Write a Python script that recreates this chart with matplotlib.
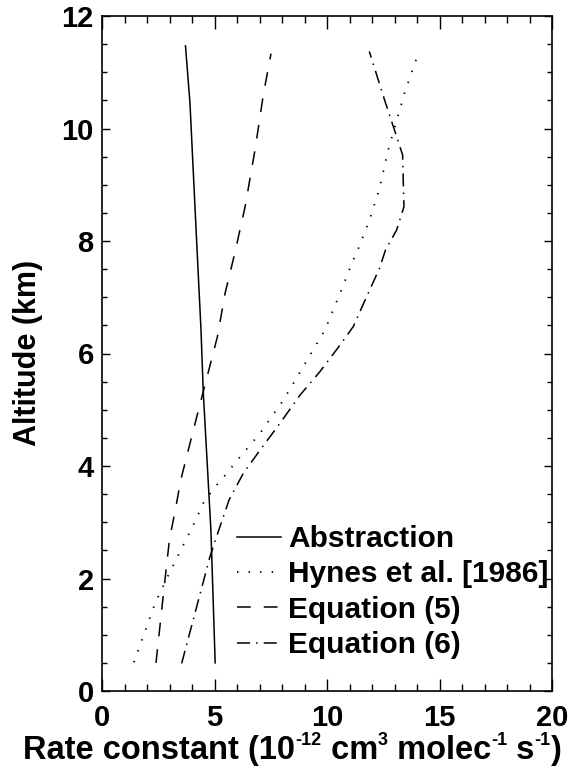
import matplotlib
matplotlib.use("Agg")
import matplotlib.pyplot as plt
from matplotlib.ticker import MultipleLocator

# altitude (km) and rate constant (1e-12 cm3 molec-1 s-1)
alt_abs = [0.5, 2.86, 5.32, 6.42, 7.8, 10.45, 11.47]
k_abs = [5.03, 4.84, 4.5, 4.4, 4.23, 3.91, 3.71]

alt_hynes = [0.51, 1.56, 2.06, 2.36, 3.01, 3.34, 3.63, 3.76, 4.16, 4.58, 5.17,
             5.77, 6.42, 7.07, 7.57, 7.91, 8.4, 8.93, 9.62, 10.15, 10.66, 11.34]
k_hynes = [1.42, 2.36, 2.95, 3.32, 4.13, 4.5, 5.02, 5.32, 6.13, 7.02, 8.06,
           8.95, 9.91, 10.58, 11.07, 11.44, 11.91, 12.33, 12.72, 13.1, 13.47, 14.06]

alt_eq5 = [0.5, 1.8, 2.7, 3.2, 3.75, 4.64, 5.32, 6.3, 7.07, 7.78, 8.61, 9.62, 10.6, 11.33]
k_eq5 = [2.4, 2.75, 3.0, 3.25, 3.5, 4.06, 4.5, 5.13, 5.47, 5.9, 6.36, 6.8, 7.17, 7.51]

alt_eq6 = [0.49, 1.5, 2.39, 2.92, 3.4, 3.87, 4.28, 4.76, 5.26, 5.68, 6.15, 6.48,
           7.01, 7.51, 7.84, 8.2, 8.61, 9.53, 9.85, 10.48, 11.37]
k_eq6 = [3.54, 4.21, 4.8, 5.24, 5.65, 6.28, 7.02, 7.91, 8.8, 9.69, 10.58, 11.17,
         11.76, 12.33, 12.6, 13.1, 13.42, 13.36, 13.1, 12.58, 11.88]

# x label pieces: (text, is superscript)
xlabel_parts = [('Rate constant (10', False), ('-12', True), (' cm', False),
                ('3', True), (' molec', False), ('-1', True), (' s', False),
                ('-1', True), (')', False)]

plt.rcParams['font.family'] = ['Liberation Sans', 'DejaVu Sans']

W, H = 585, 767
fig = plt.figure(figsize=(W/100, H/100), dpi=100)
ax = fig.add_axes([102/W, 1-691/H, 450/W, 675/H])

ax.plot(k_abs, alt_abs, color='black', lw=1.1, label='Abstraction')
ax.plot(k_hynes, alt_hynes, color='black', lw=1.3, linestyle=(0, (0.8, 5.6)),
        label='Hynes et al. [1986]')
ax.plot(k_eq5, alt_eq5, color='black', lw=1.1, linestyle=(0, (9, 8.5)),
        label='Equation (5)')
ax.plot(k_eq6, alt_eq6, color='black', lw=1.1, linestyle=(0, (8.5, 4, 1, 4)),
        label='Equation (6)')

ax.set_xlim(0, 20)
ax.set_ylim(0, 12)
ax.xaxis.set_major_locator(MultipleLocator(5))
ax.xaxis.set_minor_locator(MultipleLocator(1))
ax.yaxis.set_major_locator(MultipleLocator(2))
ax.yaxis.set_minor_locator(MultipleLocator(0.5))
ax.tick_params(axis='both', which='both', direction='in', top=True, right=True,
               width=1.0, labelsize=21)
ax.tick_params(axis='x', which='major', length=9, pad=9)
ax.tick_params(axis='x', which='minor', length=5)
ax.tick_params(axis='y', which='major', length=6, pad=6)
ax.tick_params(axis='y', which='minor', length=3.5)
for lab in ax.get_xticklabels() + ax.get_yticklabels():
    lab.set_fontweight('bold')
for s in ax.spines.values():
    s.set_linewidth(1.2)

fig.text(28/W, 1-353/H, 'Altitude (km)', rotation=90, ha='center', va='center',
         fontsize=22, fontweight='bold')

# x label drawn piece by piece so the superscripts stay small
renderer = fig.canvas.get_renderer()
texts = []
for s, sup in xlabel_parts:
    t = fig.text(0, 0, s, fontsize=13 if sup else 23.5, fontweight='bold',
                 ha='left', va='baseline')
    texts.append((t, sup, t.get_window_extent(renderer).width))
total = sum(w for _, _, w in texts)
x = W/2 - total/2
base = 759
for t, sup, w in texts:
    y = base - 14 if sup else base
    t.set_position((x/W, 1-y/H))
    x += w

leg = ax.legend(loc='upper left', bbox_to_anchor=(237/W, 1-525/H),
                bbox_transform=fig.transFigure, frameon=False, borderpad=0,
                borderaxespad=0, handlelength=1.47, handletextpad=0.23,
                labelspacing=0.25, prop={'size': 21.5, 'weight': 'bold'})

fig.savefig('out.png', dpi=100)
